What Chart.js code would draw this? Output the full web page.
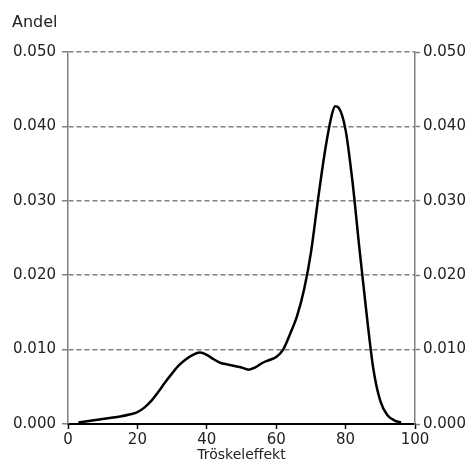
<!DOCTYPE html>
<html>
<head>
<meta charset="utf-8">
<script src="https://cdn.jsdelivr.net/npm/chart.js@4/dist/chart.umd.min.js"></script>
<style>
html,body{margin:0;padding:0;background:#fff;}
#wrap{width:472px;height:463px;position:relative;}
</style>
</head>
<body>
<div id="wrap"><canvas id="c" width="472" height="463"></canvas></div>
<script>
const xValues = [3,6,9,12,15,18,20,22,24,26,28,30,32,34,36,38,40,42,44,46,48,50,52,54,56,58,60,62,64,66,68,70,72,74,76,77,78,80,82,84,86,88,90,92,94,96];
const shareValues = [0.0002,0.0004,0.0006,0.0008,0.0010,0.0013,0.0016,0.0022,0.0031,0.0043,0.0056,0.0068,0.0079,0.0087,0.0093,0.0096,0.0093,0.0087,0.0082,0.0080,0.0078,0.0076,0.0073,0.0076,0.0082,0.0086,0.0090,0.0100,0.0121,0.0145,0.0180,0.0230,0.0300,0.0365,0.0415,0.0427,0.0425,0.0395,0.0325,0.0235,0.0150,0.0074,0.0031,0.0012,0.0005,0.0002];
const xTicks = [0,20,40,60,80,100];
const yTicks = [0,0.01,0.02,0.03,0.04,0.05];
const yAxisLabel = 'Andel';
const xAxisLabel = 'Tröskeleffekt';

const points = xValues.map((x,i)=>({x:x,y:shareValues[i]}));
const FONT = 'DejaVu Sans';
const GREY = '#808080';
const TXT = '#222';

const titlePlugin = {
  id:'yTitle',
  afterDraw(chart){
    const ctx = chart.ctx;
    ctx.save();
    ctx.font = '16px "' + FONT + '"';
    ctx.fillStyle = TXT;
    ctx.textAlign = 'left';
    ctx.textBaseline = 'alphabetic';
    ctx.fillText(yAxisLabel, 12, 27);
    ctx.restore();
  }
};

new Chart(document.getElementById('c'), {
  type:'line',
  data:{datasets:[{data:points, borderColor:'#000', borderWidth:2.5, pointRadius:0, fill:false, cubicInterpolationMode:'monotone'}]},
  options:{
    responsive:false, animation:false, maintainAspectRatio:false,
    layout:{padding:{top:52,left:0,right:0,bottom:0}},
    plugins:{legend:{display:false}, tooltip:{enabled:false}},
    scales:{
      x:{type:'linear', position:'bottom', min:0, max:100,
        afterBuildTicks(s){ s.ticks = xTicks.map(v=>({value:v})); },
        afterFit(s){ s.height = 39; },
        ticks:{font:{family:FONT,size:15}, color:TXT, padding:2, maxRotation:0, autoSkip:false},
        grid:{drawOnChartArea:false, drawTicks:true, tickLength:5, tickColor:'#000', tickWidth:1.5},
        border:{color:'#000', width:2},
        title:{display:true, text:xAxisLabel, font:{family:FONT,size:14}, color:TXT, padding:{top:0,bottom:-1}}
      },
      y:{type:'linear', position:'left', min:0, max:0.05,
        afterBuildTicks(s){ s.ticks = yTicks.map(v=>({value:v})); },
        afterFit(s){ s.width = 68; },
        ticks:{font:{family:FONT,size:15}, color:TXT, padding:6, callback:v=>v.toFixed(3)},
        grid:{color:c=> (c.tick && c.tick.value===0) ? 'rgba(0,0,0,0)' : GREY, lineWidth:1.5, tickLength:6, tickColor:GREY, tickWidth:1.5, tickBorderDash:[]},
        border:{color:GREY, width:1.5, dash:[5,3]}
      },
      y2:{type:'linear', position:'right', min:0, max:0.05,
        afterBuildTicks(s){ s.ticks = yTicks.map(v=>({value:v})); },
        afterFit(s){ s.width = 57; },
        ticks:{font:{family:FONT,size:15}, color:TXT, padding:3, callback:v=>v.toFixed(3)},
        grid:{drawOnChartArea:false, tickLength:5, tickColor:GREY, tickWidth:1.5},
        border:{color:GREY, width:1.5}
      }
    }
  },
  plugins:[titlePlugin]
});
</script>
</body>
</html>
